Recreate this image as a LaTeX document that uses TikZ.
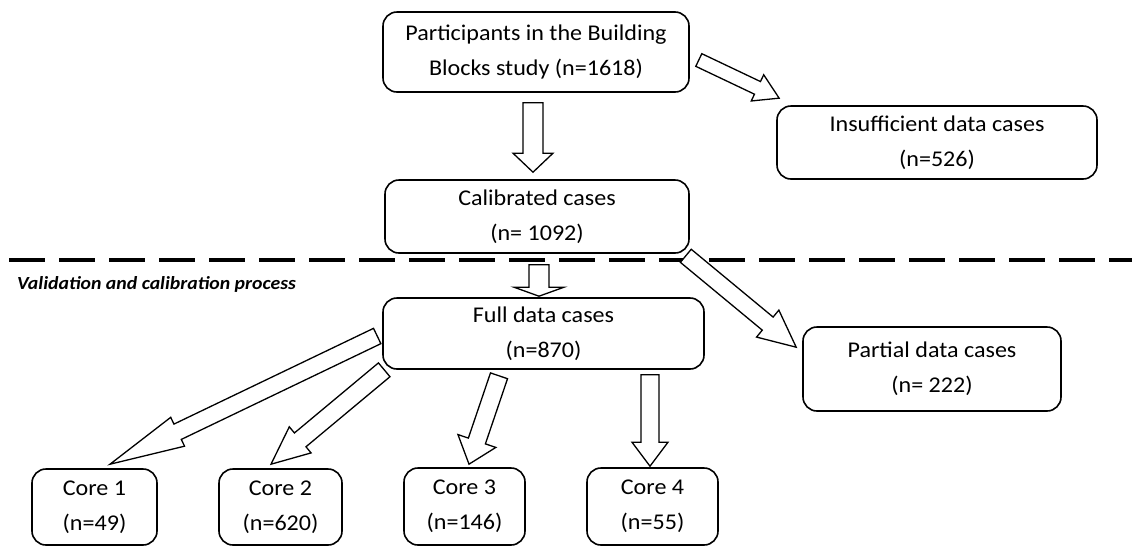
\documentclass[tikz,border=0pt]{standalone}
\usepackage{fontspec}
\setmainfont{Carlito}[FakeStretch=1.07]
\usetikzlibrary{calc}
\tikzset{
  box/.style={draw=black, line width=1.6pt, rounded corners=14pt, align=center,
    inner sep=0pt, font=\fontsize{22.5}{35}\selectfont, text=black},
  barrow/.style={draw=black, line width=1.3pt, fill=white, line join=miter},
  lbl/.style={font=\fontsize{18.5}{20}\selectfont\bfseries\itshape, anchor=west, inner sep=0pt},
  dashline/.style={line width=4pt, dash pattern=on 36pt off 14pt}
}
% #1 tail, #2 tip, #3 half shaft width, #4 half head width, #5 head length
\newcommand\blockarrow[5]{%
  \draw[barrow] let \p1=($(#2)-(#1)$), \n1={veclen(\x1,\y1)}, \n2={atan2(\y1,\x1)} in
    [shift={(#1)}, rotate=\n2]
    (0pt,-#3pt) -- ({\n1-#5pt},-#3pt) -- ({\n1-#5pt},-#4pt) -- ({\n1},0pt)
    -- ({\n1-#5pt},#4pt) -- ({\n1-#5pt},#3pt) -- (0pt,#3pt) -- cycle;%
}
\begin{document}
\begin{tikzpicture}[x=1pt,y=-1pt]
\useasboundingbox[fill=white] (0,0) rectangle (1132,547);

\node[box, minimum width=306pt, minimum height=80pt] (top) at (536,52)
  {Participants in the Building\\Blocks study (n=1618)};
\node[box, minimum width=320pt, minimum height=73pt] (insuf) at (937,142.5)
  {Insufficient data cases\\(n=526)};
\node[box, minimum width=304pt, minimum height=73pt] (calib) at (537,216.5)
  {Calibrated cases\\(n= 1092)};
\node[box, minimum width=321pt, minimum height=71pt] (full) at (543.5,333.5)
  {Full data cases\\(n=870)};
\node[box, minimum width=258pt, minimum height=84pt] (partial) at (932,369)
  {Partial data cases\\(n= 222)};
\node[box, minimum width=125pt, minimum height=76pt] (core1) at (94.5,507)
  {Core 1\\(n=49)};
\node[box, minimum width=123pt, minimum height=76pt] (core2) at (280.5,507)
  {Core 2\\(n=620)};
\node[box, minimum width=121pt, minimum height=77pt] (core3) at (464.5,506.5)
  {Core 3\\(n=146)};
\node[box, minimum width=131pt, minimum height=77pt] (core4) at (652.5,506.5)
  {Core 4\\(n=55)};

\draw[dashline] (9,260) -- (1132,260);
\node[lbl] (vlabel) at (17,284) {Validation and calibration process};

% arrow end points, tied to the boxes
\coordinate (a1s) at ($(top.south)+(-3,10)$);
\coordinate (a1e) at ($(calib.north)+(-4,-7)$);
\coordinate (a2s) at ($(top.east)+(9,8)$);
\coordinate (a2e) at ($(insuf.north west)+(3,-7)$);
\coordinate (a3s) at ($(calib.south)+(2,11)$);
\coordinate (a3e) at ($(full.north)+(-4.5,-1)$);
\coordinate (a4s) at ($(calib.south east)+(-4,2)$);
\coordinate (a4e) at ($(partial.north west)+(-6,21)$);
\coordinate (a5s) at ($(full.west)+(-5,2.5)$);
\coordinate (a5e) at ($(core1.north)+(15.5,-4)$);
\coordinate (a6s) at ($(full.south west)+(2,0)$);
\coordinate (a6e) at ($(core2.north)+(-9.5,-4)$);
\coordinate (a7s) at ($(full.south)+(-44.5,6)$);
\coordinate (a7e) at ($(core3.north)+(4.5,-3)$);
\coordinate (a8s) at ($(full.south)+(106.5,5)$);
\coordinate (a8e) at ($(core4.north)+(-2.5,-1)$);

\blockarrow{a1s}{a1e}{10}{20}{19}
\blockarrow{a2s}{a2e}{7}{14.5}{24}
\blockarrow{a3s}{a3e}{10}{25}{9}
\blockarrow{a4s}{a4e}{8.5}{17.5}{37}
\blockarrow{a5s}{a5e}{8.5}{16}{75}
\blockarrow{a6s}{a6e}{9}{17}{38}
\blockarrow{a7s}{a7e}{9}{20}{24.5}
\blockarrow{a8s}{a8e}{9}{18}{24}
\end{tikzpicture}
\end{document}
